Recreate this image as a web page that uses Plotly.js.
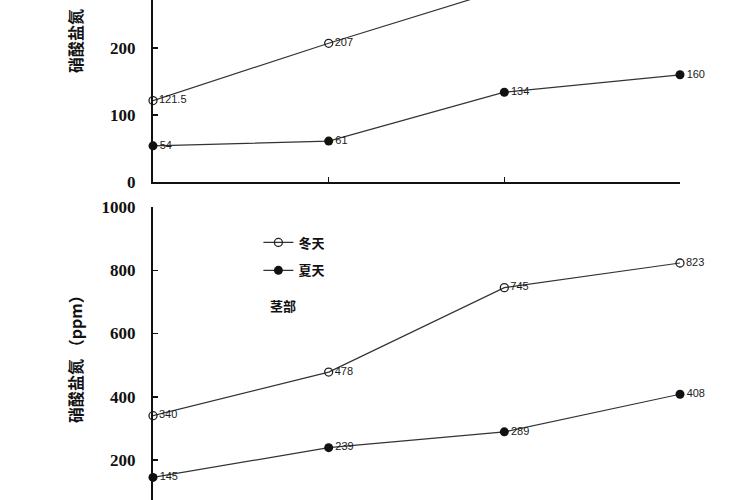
<!DOCTYPE html>
<html>
<head>
<meta charset="utf-8">
<script src="https://cdn.plot.ly/plotly-3.0.1.min.js"></script>
<style>html,body{margin:0;padding:0;background:#fff;}#chart{width:750px;height:500px;}</style>
</head>
<body>
<div id="chart"></div>
<script>
// ---- data ----
const positions = [1, 2, 3, 4];
const seriesNames = ["冬天", "夏天"];
const leafWinter = [121.5, 207, 288, 345];
const leafSummer = [54, 61, 134, 160];
const stemWinter = [340, 478, 745, 823];
const stemSummer = [145, 239, 289, 408];
const leafTicks = [0, 100, 200];
const stemTicks = [200, 400, 600, 800, 1000];
const yTitle = "硝酸盐氮 （ppm）";
const stemLabel = "茎部";

const lineColor = "#333";
const labelFont = {family: "Liberation Sans, Arial", size: 11, color: "#1a1a1a"};

function fmt(v){ return String(v); }

function mk(x, y, xa, ya, name, open, showlegend, group){
  return {
    x: x, y: y, xaxis: xa, yaxis: ya, name: name, type: "scatter",
    mode: "lines+markers+text",
    text: y.map(fmt), textposition: "middle right", textfont: labelFont,
    line: {color: lineColor, width: 1.2},
    marker: open ? {symbol: "circle-open", size: 8, color: "#222", line: {width: 1.3, color: "#222"}}
                 : {symbol: "circle", size: 9, color: "#111"},
    cliponaxis: false, showlegend: showlegend, legendgroup: group
  };
}

const data = [
  mk(positions, leafWinter, "x", "y", seriesNames[0], true, false, "w"),
  mk(positions, leafSummer, "x", "y", seriesNames[1], false, false, "s"),
  mk(positions, stemWinter, "x2", "y2", seriesNames[0], true, true, "w"),
  mk(positions, stemSummer, "x2", "y2", seriesNames[1], false, true, "s")
];

const tickFont = {family: "Liberation Serif, Times New Roman, serif", size: 17, color: "#111", weight: "bold"};
const cjkFont = {family: "Noto Sans CJK SC", size: 16, color: "#111", weight: "bold"};

const yBase = {
  showline: true, linewidth: 2, linecolor: "#111", ticks: "inside", ticklen: 5, tickwidth: 1.5, tickcolor: "#111",
  showgrid: false, zeroline: false, tickfont: tickFont, ticklabelstandoff: 12, fixedrange: true
};

const layout = {
  width: 750, height: 500,
  margin: {l: 153, r: 70, t: 0, b: 0},
  paper_bgcolor: "#fff", plot_bgcolor: "#fff",
  showlegend: true,
  legend: {x: 0.2, y: 0.545, xanchor: "left", yanchor: "top", bgcolor: "rgba(0,0,0,0)",
           font: {family: "Noto Sans CJK SC", size: 13, color: "#111", weight: "bold"},
           traceorder: "grouped", tracegroupgap: 8, itemwidth: 30},
  xaxis: {domain: [0, 1], range: [1, 4], anchor: "y", showline: true, linewidth: 2, linecolor: "#111",
          ticks: "inside", ticklen: 5, tickwidth: 1.5, tickcolor: "#111", tickvals: positions,
          showticklabels: false, showgrid: false, zeroline: false, fixedrange: true},
  yaxis: Object.assign({}, yBase, {domain: [1 - 182/500, 1], range: [0, 271.6], tickvals: leafTicks}),
  xaxis2: {domain: [0, 1], range: [1, 4], anchor: "y2", showline: false, ticks: "", showticklabels: false,
           showgrid: false, zeroline: false, fixedrange: true},
  yaxis2: Object.assign({}, yBase, {domain: [0, 1 - 207/500], range: [73.5, 1000], tickvals: stemTicks}),
  annotations: [
    {text: yTitle, xref: "paper", yref: "paper", x: -0.148, y: 0.99, xanchor: "center", yanchor: "middle",
     textangle: -90, showarrow: false, font: cjkFont},
    {text: yTitle, xref: "paper", yref: "paper", x: -0.148, y: 0.29, xanchor: "center", yanchor: "middle",
     textangle: -90, showarrow: false, font: cjkFont},
    {text: stemLabel, xref: "paper", yref: "paper", x: (283 - 153)/527, y: 1 - 305/500, xanchor: "center", yanchor: "middle",
     showarrow: false, font: {family: "Noto Sans CJK SC", size: 13, color: "#111", weight: "bold"}}
  ]
};

Plotly.newPlot("chart", data, layout, {displayModeBar: false, staticPlot: true});
</script>
</body>
</html>
